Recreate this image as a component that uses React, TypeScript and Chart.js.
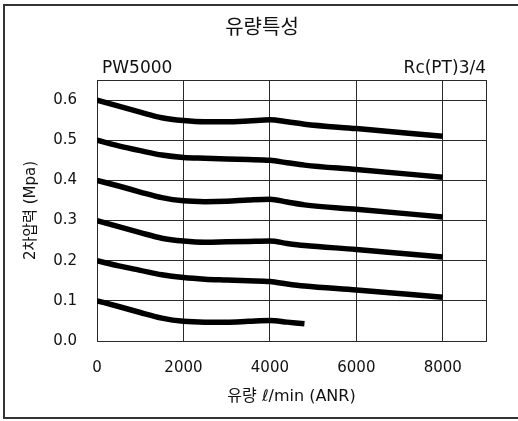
import React, { useEffect, useRef } from "react";
import { Chart, registerables } from "chart.js";

Chart.register(...registerables);

// ---- data ----
const flowX = [0, 500, 1000, 1500, 2000, 2500, 3000, 3500, 4000, 4400, 4800, 6000, 8000];
const flowXLow = [0, 500, 1000, 1500, 2000, 2500, 3000, 3500, 4000, 4400, 4800];
const p06 = [0.6, 0.585, 0.570, 0.556, 0.549, 0.546, 0.546, 0.548, 0.551, 0.546, 0.540, 0.529, 0.510];
const p05 = [0.5, 0.486, 0.474, 0.463, 0.457, 0.455, 0.453, 0.452, 0.450, 0.444, 0.438, 0.427, 0.408];
const p04 = [0.4, 0.386, 0.371, 0.357, 0.349, 0.347, 0.348, 0.351, 0.353, 0.346, 0.339, 0.328, 0.309];
const p03 = [0.3, 0.285, 0.270, 0.256, 0.249, 0.246, 0.247, 0.248, 0.249, 0.243, 0.238, 0.228, 0.209];
const p02 = [0.2, 0.187, 0.176, 0.165, 0.158, 0.154, 0.152, 0.150, 0.148, 0.142, 0.137, 0.127, 0.109];
const p01 = [0.1, 0.086, 0.071, 0.057, 0.049, 0.047, 0.047, 0.049, 0.051, 0.047, 0.043];
const xTickValues = [0, 2000, 4000, 6000, 8000, 9000];
const yTickValues = [0, 0.1, 0.2, 0.3, 0.4, 0.5, 0.6, 0.65];
const titleText = "유량특성";
const modelText = "PW5000";
const portText = "Rc(PT)3/4";
const xTitle = "유량 ℓ/min (ANR)";
const yTitle = "2차압력 (Mpa)";

const FONT = "'DejaVu Sans', 'Noto Sans CJK KR', sans-serif";
const INK = "#111";
const GRID = "#2a2a2a";

const toPoints = (xs: number[], ys: number[]) => ys.map((y, i) => ({ x: xs[i], y }));

const framePlugin = {
  id: "frameAndLabels",
  beforeDraw(chart: any) {
    const ctx = chart.ctx;
    ctx.save();
    ctx.fillStyle = "#fff";
    ctx.fillRect(0, 0, chart.width, chart.height);
    ctx.fillStyle = "#333";
    ctx.fillRect(3, 4, 2, 415);
    ctx.fillRect(3, 4, chart.width - 3, 2);
    ctx.fillRect(3, 417, chart.width - 3, 2);
    ctx.restore();
  },
  afterDraw(chart: any) {
    const ctx = chart.ctx;
    const area = chart.chartArea;
    ctx.save();
    ctx.fillStyle = INK;
    ctx.font = `20px ${FONT}`;
    ctx.textAlign = "center";
    ctx.textBaseline = "middle";
    ctx.fillText(titleText, 262, 29);
    ctx.font = `17px ${FONT}`;
    ctx.textBaseline = "alphabetic";
    ctx.textAlign = "left";
    ctx.fillText(modelText, area.left + 5, 73);
    ctx.textAlign = "right";
    ctx.fillText(portText, area.right, 73);
    ctx.restore();
  },
};

const lineDs = (data: { x: number; y: number }[]) => ({
  data,
  borderColor: "#000",
  backgroundColor: "#000",
  borderWidth: 5.5,
  pointRadius: 0,
  fill: false,
  cubicInterpolationMode: "monotone" as const,
  borderCapStyle: "butt" as const,
});

export default function App() {
  const ref = useRef<HTMLCanvasElement | null>(null);
  useEffect(() => {
    document.body.style.margin = "0";
    const canvas = ref.current!;
    const chart = new Chart(canvas, {
      type: "line",
      data: {
        datasets: [
          lineDs(toPoints(flowX, p06)),
          lineDs(toPoints(flowX, p05)),
          lineDs(toPoints(flowX, p04)),
          lineDs(toPoints(flowX, p03)),
          lineDs(toPoints(flowX, p02)),
          lineDs(toPoints(flowXLow, p01)),
        ],
      },
      options: {
        animation: false,
        responsive: false,
        devicePixelRatio: 1,
        layout: { padding: { left: 0, right: 32, top: 80, bottom: 0 } },
        plugins: {
          legend: { display: false },
          tooltip: { enabled: false },
          title: { display: false },
        },
        scales: {
          x: {
            type: "linear",
            min: 0,
            max: 9000,
            afterBuildTicks: (scale: any) => {
              scale.ticks = xTickValues.map((v) => ({ value: v }));
            },
            afterFit: (scale: any) => {
              scale.height = 80;
              scale.paddingLeft = 0;
              scale.paddingRight = 0;
            },
            ticks: {
              color: INK,
              font: { family: FONT, size: 15 },
              padding: 18,
              maxRotation: 0,
              autoSkip: false,
              callback: (v: any) => (v === 9000 ? "" : String(v)),
            },
            grid: { color: GRID, lineWidth: 1, drawTicks: false },
            border: { color: GRID, width: 1 },
            title: {
              display: true,
              text: xTitle,
              color: INK,
              font: { family: FONT, size: 16 },
              padding: { top: 0, bottom: 15 },
            },
          },
          y: {
            type: "linear",
            min: 0,
            max: 0.65,
            afterBuildTicks: (scale: any) => {
              scale.ticks = yTickValues.map((v) => ({ value: v }));
            },
            afterFit: (scale: any) => {
              scale.width = 97;
              scale.paddingTop = 0;
              scale.paddingBottom = 0;
            },
            ticks: {
              color: INK,
              font: { family: FONT, size: 15 },
              padding: 20,
              autoSkip: false,
              callback: (v: any) => (v === 0.65 ? "" : Number(v).toFixed(1)),
            },
            grid: { color: GRID, lineWidth: 1, drawTicks: false },
            border: { color: GRID, width: 1 },
            title: {
              display: true,
              text: yTitle,
              color: INK,
              font: { family: FONT, size: 15 },
              padding: { top: 22, bottom: 0 },
            },
          },
        },
      },
      plugins: [framePlugin],
    } as any);
    return () => chart.destroy();
  }, []);
  return <canvas ref={ref} width={518} height={421} style={{ display: "block" }} />;
}
